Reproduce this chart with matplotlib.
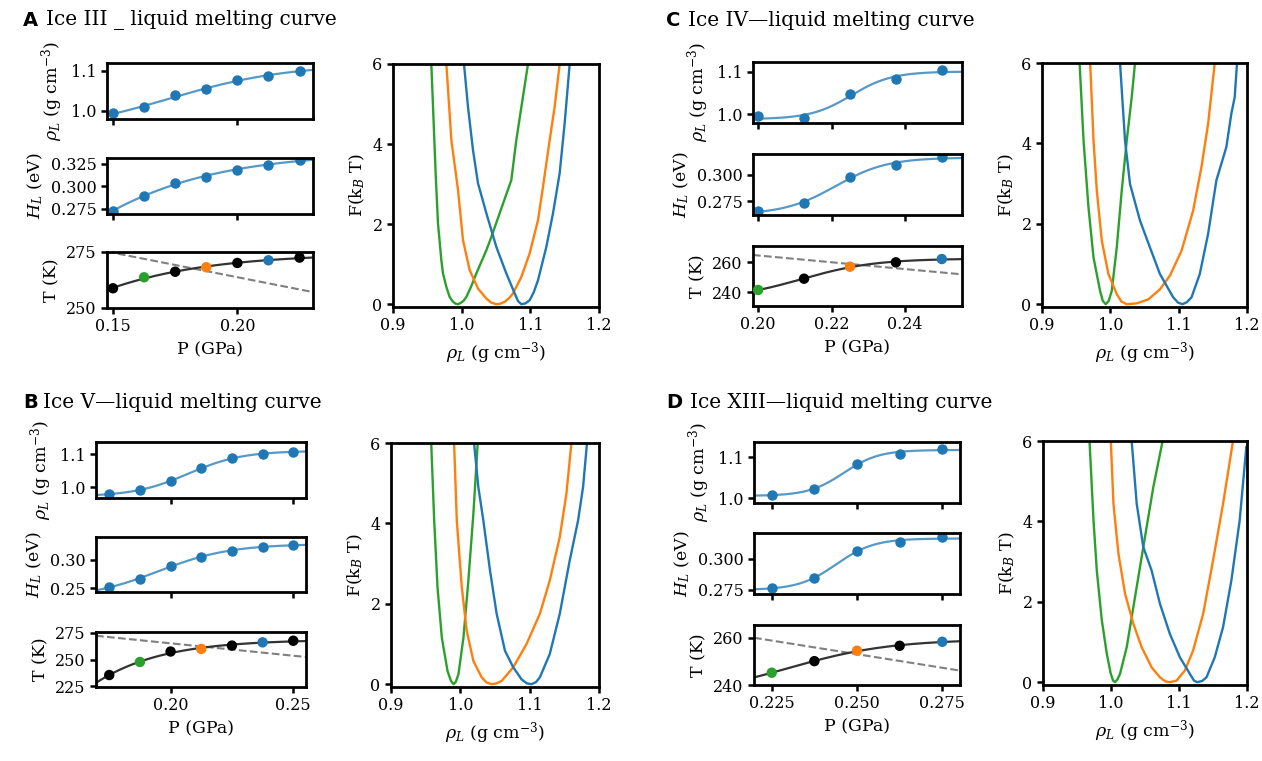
import numpy as np
import matplotlib.pyplot as plt

# ---- data ----
# panel A: ice III
pA = [0.15, 0.1625, 0.175, 0.1875, 0.2, 0.2125, 0.225]
rhoA = [0.993, 1.008, 1.038, 1.054, 1.076, 1.086, 1.100]
hA = [0.2724, 0.2894, 0.3033, 0.3107, 0.3181, 0.3239, 0.3287]
tA = [258.8, 263.7, 266.2, 268.2, 270.1, 271.3, 272.5]
colA = ['k', 'tab:green', 'k', 'tab:orange', 'k', 'tab:blue', 'k']
dashA_p = [0.1476, 0.2304]
dashA_t = [275.2, 257.1]

# panel B: ice V
pB = [0.175, 0.1875, 0.2, 0.2125, 0.225, 0.2375, 0.25]
rhoB = [0.979, 0.992, 1.018, 1.057, 1.087, 1.102, 1.107]
hB = [0.2517, 0.2657, 0.2895, 0.3052, 0.3157, 0.3215, 0.3267]
tB = [235.6, 247.7, 257.4, 259.8, 262.9, 265.9, 267.4]
colB = ['k', 'tab:green', 'k', 'tab:orange', 'k', 'tab:blue', 'k']
dashB_p = [0.1696, 0.2552]
dashB_t = [272.0, 252.3]

# panel C: ice IV
pC = [0.2, 0.2125, 0.225, 0.2375, 0.25]
rhoC = [0.9945, 0.9906, 1.0469, 1.082, 1.104]
hC = [0.2655, 0.2737, 0.2981, 0.3098, 0.3168]
tC = [241.6, 249.1, 257.1, 260.0, 262.2]
colC = ['tab:green', 'k', 'tab:orange', 'k', 'tab:blue']
dashC_p = [0.1986, 0.2555]
dashC_t = [264.9, 252.0]

# panel D: ice XIII
pD = [0.225, 0.2375, 0.25, 0.2625, 0.275]
rhoD = [1.008, 1.022, 1.085, 1.108, 1.122]
hD = [0.2763, 0.2847, 0.3061, 0.3129, 0.3171]
tD = [245.2, 250.1, 254.5, 256.6, 258.3]
colD = ['tab:green', 'k', 'tab:orange', 'k', 'tab:blue']
dashD_p = [0.2198, 0.2802]
dashD_t = [260.0, 246.1]

# free energy profiles F(rho) in kB T
fA_green_x = [0.9558, 0.9583, 0.9621, 0.9655, 0.9704, 0.9728, 0.9777, 0.9825, 0.9874, 0.9915, 0.9947,
              0.9985, 1.0025, 1.0068, 1.014, 1.0214, 1.036, 1.0432, 1.0553, 1.0723, 1.0796, 1.087, 1.0966]
fA_green_y = [6, 4.93, 3.27, 2.02, 1.1, 0.77, 0.43, 0.18, 0.06, 0.01, 0,
              0.03, 0.08, 0.18, 0.45, 0.77, 1.35, 1.68, 2.27, 3.1, 4.1, 4.93, 6]
fA_orange_x = [0.9777, 0.985, 0.9947, 1.0019, 1.0117, 1.0238, 1.036, 1.043, 1.0505, 1.056, 1.0626,
               1.069, 1.0748, 1.0869, 1.099, 1.1112, 1.1184, 1.1282, 1.1354, 1.1427]
fA_orange_y = [6, 4.1, 2.85, 1.6, 0.85, 0.39, 0.14, 0.04, 0, 0.01, 0.06,
               0.15, 0.27, 0.68, 1.27, 2.1, 2.93, 4.1, 4.93, 6]
fA_blue_x = [1.0034, 1.0092, 1.0165, 1.0238, 1.036, 1.0505, 1.065, 1.0772, 1.082, 1.0869, 1.093,
             1.099, 1.105, 1.1112, 1.1233, 1.133, 1.1427, 1.15, 1.1573]
fA_blue_y = [6, 4.93, 3.85, 3.02, 2.27, 1.43, 0.77, 0.27, 0.08, 0, 0.02,
             0.1, 0.3, 0.6, 1.43, 2.27, 3.27, 4.52, 6]

fB_green_x = [0.958, 0.9623, 0.9671, 0.9733, 0.9815, 0.9865, 0.9901, 0.9935, 0.9973, 1.0045,
              1.0116, 1.0188, 1.0251]
fB_green_y = [6, 4.07, 2.41, 1.16, 0.33, 0.08, 0, 0.06, 0.25, 1.16, 2.58, 4.24, 6]
fB_orange_x = [0.991, 0.9949, 1.0021, 1.0092, 1.0188, 1.0308, 1.038, 1.0452, 1.052, 1.0596, 1.0763,
               1.0955, 1.1147, 1.129, 1.1434, 1.153, 1.1602]
fB_orange_y = [6, 4.07, 2.41, 1.33, 0.58, 0.17, 0.04, 0, 0.02, 0.08, 0.42,
               1.0, 1.75, 2.58, 3.66, 4.74, 6]
fB_blue_x = [1.0198, 1.026, 1.0332, 1.0428, 1.0524, 1.0644, 1.0763, 1.0883, 1.096, 1.1027, 1.109,
             1.1147, 1.129, 1.1434, 1.1578, 1.1698, 1.177, 1.1827]
fB_blue_y = [6, 4.9, 4.07, 2.83, 1.75, 0.83, 0.42, 0.12, 0.02, 0, 0.05,
             0.17, 0.75, 1.75, 3.08, 4.07, 4.9, 6]

fC_green_x = [0.955, 0.9608, 0.968, 0.9754, 0.985, 0.989, 0.9933, 0.9975, 1.0021, 1.0094, 1.0167,
              1.024, 1.0313, 1.0361]
fC_green_y = [6, 4.07, 2.41, 1.16, 0.33, 0.08, 0, 0.08, 0.33, 1.41, 2.83, 4.07, 5.15, 6]
fC_orange_x = [0.9705, 0.9754, 0.9802, 0.9875, 0.9972, 1.0094, 1.016, 1.024, 1.0386, 1.0556, 1.0726,
               1.0872, 1.1042, 1.1212, 1.1333, 1.1431, 1.1528]
fC_orange_y = [6, 4.07, 2.83, 1.58, 0.75, 0.25, 0.07, 0, 0.02, 0.12, 0.37,
               0.71, 1.33, 2.33, 3.41, 4.49, 6]
fC_blue_x = [1.0142, 1.0215, 1.0288, 1.0434, 1.058, 1.0726, 1.092, 1.099, 1.1056, 1.112, 1.1188,
             1.1309, 1.1431, 1.1552, 1.1698, 1.1771, 1.182, 1.1854]
fC_blue_y = [6, 4.07, 2.99, 2.08, 1.41, 0.75, 0.17, 0.04, 0, 0.05, 0.17,
             0.75, 1.75, 3.08, 3.91, 4.74, 5.15, 6]

fD_green_x = [0.9684, 0.9743, 0.9791, 0.9865, 0.9938, 0.9995, 1.003, 1.006, 1.0095, 1.0133, 1.0231,
              1.0329, 1.0426, 1.0524, 1.0622, 1.0759]
fD_green_y = [6, 4.02, 2.78, 1.54, 0.71, 0.22, 0.04, 0, 0.07, 0.21, 0.87,
              1.87, 2.86, 3.86, 4.85, 6]
fD_orange_x = [0.9997, 1.0036, 1.0109, 1.0207, 1.0329, 1.0451, 1.0597, 1.072, 1.08, 1.0866, 1.0964,
               1.1086, 1.1208, 1.1355, 1.1501, 1.1648, 1.1794]
fD_orange_y = [6, 4.44, 3.2, 2.2, 1.45, 0.87, 0.37, 0.12, 0.02, 0, 0.04,
               0.29, 0.79, 1.7, 3.03, 4.44, 6]
fD_blue_x = [1.0304, 1.0378, 1.0475, 1.0597, 1.072, 1.0866, 1.1013, 1.1159, 1.122, 1.1267, 1.134,
             1.1404, 1.1526, 1.1648, 1.177, 1.1892, 1.199]
fD_blue_y = [6, 4.44, 3.36, 2.78, 1.95, 1.2, 0.62, 0.21, 0.04, 0, 0.03,
             0.12, 0.62, 1.37, 2.53, 4.02, 5.85]

plt.rcParams['font.family'] = 'DejaVu Serif'
plt.rcParams['mathtext.fontset'] = 'dejavuserif'
plt.rcParams['font.size'] = 12.5

W, H = 1262, 761
fig = plt.figure(figsize=(W / 100, H / 100), dpi=100)


def px_axes(x0, y0, x1, y1):
    return fig.add_axes([x0 / W, 1 - y1 / H, (x1 - x0) / W, (y1 - y0) / H])


def style(ax):
    for s in ax.spines.values():
        s.set_linewidth(2)
    ax.tick_params(direction='out', length=4.5, width=1.8, labelsize=11.5, pad=3)


def tanh_fit(x, y, xs):
    # least squares y = a + b*tanh((x-c)/d), grid over c and d
    x = np.asarray(x)
    y = np.asarray(y)
    cs = np.linspace(x.min() - 0.06, x.max() + 0.06, 240)
    ds = np.linspace(0.003, 0.12, 160)
    t = np.tanh((x[None, None, :] - cs[:, None, None]) / ds[None, :, None])
    tm = t.mean(-1, keepdims=True)
    ym = y.mean()
    b = ((t - tm) * (y - ym)).sum(-1) / (((t - tm) ** 2).sum(-1) + 1e-15)
    a = ym - b * tm[..., 0]
    err = ((y - a[..., None] - b[..., None] * t) ** 2).sum(-1)
    i, j = np.unravel_index(np.argmin(err), err.shape)
    return a[i, j] + b[i, j] * np.tanh((xs - cs[i]) / ds[j])


panels = [
    dict(letter='A', title='Ice III _ liquid melting curve', tx=(23, 46), ty=20,
         left=(107, 313), rows=[(63, 119), (158, 214), (252, 308)], right=(393, 64, 599, 307),
         P=pA, rho=rhoA, h=hA, T=tA, cols=colA, dp=dashA_p, dt=dashA_t,
         xlim=(0.1476, 0.2304), xticks=[0.15, 0.20], xfmt='%.2f',
         rlim=(0.979, 1.119), hlim=(0.269, 0.3313), hticks=[0.275, 0.300, 0.325], hfmt='%.3f',
         tlim=(250, 275), tticks=[250, 275],
         F=[(fA_green_x, fA_green_y), (fA_orange_x, fA_orange_y), (fA_blue_x, fA_blue_y)]),
    dict(letter='B', title='Ice V\u2014liquid melting curve', tx=(23, 43), ty=402,
         left=(96, 306), rows=[(442, 498), (537, 592), (632, 687)], right=(391, 443, 599, 687),
         P=pB, rho=rhoB, h=hB, T=tB, cols=colB, dp=dashB_p, dt=dashB_t,
         xlim=(0.1696, 0.2552), xticks=[0.20, 0.25], xfmt='%.2f',
         rlim=(0.967, 1.137), hlim=(0.243, 0.340), hticks=[0.25, 0.30], hfmt='%.2f',
         tlim=(224.5, 275.5), tticks=[225, 250, 275],
         F=[(fB_green_x, fB_green_y), (fB_orange_x, fB_orange_y), (fB_blue_x, fB_blue_y)]),
    dict(letter='C', title='Ice IV\u2014liquid melting curve', tx=(666, 688), ty=20,
         left=(753, 962), rows=[(62, 123), (154, 215), (246, 306)], right=(1042, 63, 1247, 307),
         P=pC, rho=rhoC, h=hC, T=tC, cols=colC, dp=dashC_p, dt=dashC_t,
         xlim=(0.1986, 0.2555), xticks=[0.20, 0.22, 0.24], xfmt='%.2f',
         rlim=(0.979, 1.123), hlim=(0.262, 0.3199), hticks=[0.275, 0.300], hfmt='%.3f',
         tlim=(230.9, 270.9), tticks=[240, 260],
         F=[(fC_green_x, fC_green_y), (fC_orange_x, fC_orange_y), (fC_blue_x, fC_blue_y)]),
    dict(letter='D', title='Ice XIII\u2014liquid melting curve', tx=(666, 690), ty=403,
         left=(754, 960), rows=[(442, 503), (533, 594), (625, 685)], right=(1043, 441, 1247, 685),
         P=pD, rho=rhoD, h=hD, T=tD, cols=colD, dp=dashD_p, dt=dashD_t,
         xlim=(0.2198, 0.2802), xticks=[0.225, 0.250, 0.275], xfmt='%.3f',
         rlim=(0.988, 1.138), hlim=(0.2718, 0.3203), hticks=[0.275, 0.300], hfmt='%.3f',
         tlim=(240, 265.4), tticks=[240, 260],
         F=[(fD_green_x, fD_green_y), (fD_orange_x, fD_orange_y), (fD_blue_x, fD_blue_y)]),
]

fcolors = ['tab:green', 'tab:orange', 'tab:blue']

for pn in panels:
    fig.text(pn['tx'][0] / W, 1 - pn['ty'] / H, pn['letter'], family='DejaVu Sans',
             weight='bold', fontsize=14, va='center')
    fig.text(pn['tx'][1] / W, 1 - pn['ty'] / H, pn['title'], fontsize=14.5, va='center')

    x0, x1 = pn['left']
    xs = np.linspace(pn['xlim'][0], pn['xlim'][1], 200)
    axr = px_axes(x0, pn['rows'][0][0], x1, pn['rows'][0][1])
    axh = px_axes(x0, pn['rows'][1][0], x1, pn['rows'][1][1])
    axt = px_axes(x0, pn['rows'][2][0], x1, pn['rows'][2][1])

    for ax, vals, lim in [(axr, pn['rho'], pn['rlim']), (axh, pn['h'], pn['hlim'])]:
        ax.plot(xs, tanh_fit(pn['P'], vals, xs), color='tab:blue', alpha=0.75, lw=1.6)
        ax.plot(pn['P'], vals, 'o', color='tab:blue', ms=6.5)
        ax.set_ylim(lim)
        ax.tick_params(labelbottom=False)

    axr.set_yticks([1.0, 1.1])
    axr.yaxis.set_major_formatter('{x:.1f}')
    axr.set_ylabel(r'$\rho_L$ (g cm$^{-3}$)')
    axh.set_yticks(pn['hticks'])
    axh.yaxis.set_major_formatter(plt.FormatStrFormatter(pn['hfmt']))
    axh.set_ylabel(r'$H_L$ (eV)')

    axt.plot(pn['dp'], pn['dt'], '--', color='gray', lw=1.5)
    axt.plot(xs, tanh_fit(pn['P'], pn['T'], xs), color='#333333', lw=1.6)
    axt.scatter(pn['P'], pn['T'], c=pn['cols'], s=42, zorder=3)
    axt.set_ylim(pn['tlim'])
    axt.set_yticks(pn['tticks'])
    axt.set_ylabel('T (K)')
    axt.set_xlabel('P (GPa)')

    for ax in (axr, axh, axt):
        ax.set_xlim(pn['xlim'])
        ax.set_xticks(pn['xticks'])
        ax.xaxis.set_major_formatter(plt.FormatStrFormatter(pn['xfmt']))
        style(ax)

    axf = px_axes(*pn['right'])
    for (fx, fy), c in zip(pn['F'], fcolors):
        axf.plot(fx, fy, color=c, lw=1.7)
    axf.set_xlim(0.9, 1.2)
    axf.set_ylim(-0.07, 6)
    axf.set_xticks([0.9, 1.0, 1.1, 1.2])
    axf.set_yticks([0, 2, 4, 6])
    axf.xaxis.set_major_formatter('{x:.1f}')
    axf.set_xlabel(r'$\rho_L$ (g cm$^{-3}$)')
    axf.set_ylabel(r'F(k$_B$ T)')
    style(axf)

fig.savefig('out.png', dpi=100)
